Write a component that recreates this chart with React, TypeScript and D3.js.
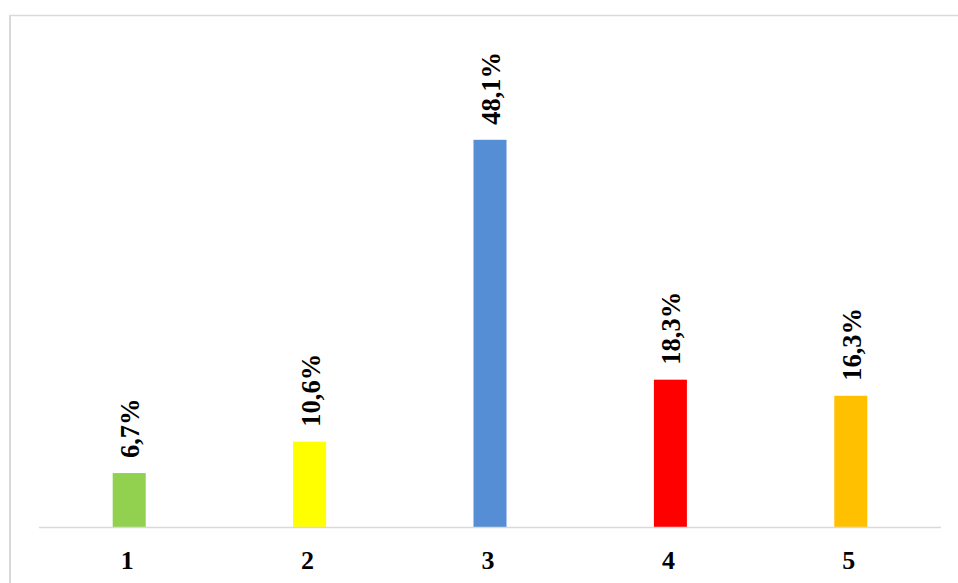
import React from "react";
import * as d3 from "d3";

const categories = ["1", "2", "3", "4", "5"];
const values = [6.7, 10.6, 48.1, 18.3, 16.3];
const labels = ["6,7%", "10,6%", "48,1%", "18,3%", "16,3%"];
const colors = ["#92d050", "#ffff00", "#558ed5", "#ff0000", "#ffc000"];

const W = 958;
const H = 583;
const FONT = "'Liberation Serif', 'Times New Roman', serif";

export default function App() {
  const x = d3
    .scaleBand<string>()
    .domain(categories)
    .range([39, 941])
    .paddingInner(0.817)
    .paddingOuter(0.4085);
  const y = d3.scaleLinear().domain([0, 60]).range([527, 44]);

  return (
    <svg
      width={W}
      height={H}
      style={{ position: "absolute", left: 0, top: 0, background: "#fff" }}
    >
      <rect x={0} y={0} width={W} height={H} fill="#fff" />
      <line x1={10} y1={15.5} x2={W} y2={15.5} stroke="#d9d9d9" strokeWidth={1.5} />
      <line x1={10} y1={15} x2={10} y2={H} stroke="#d9d9d9" strokeWidth={2} />
      {categories.map((c, i) => (
        <rect
          key={c}
          x={x(c)}
          y={y(values[i])}
          width={x.bandwidth()}
          height={y(0) - y(values[i])}
          fill={colors[i]}
        />
      ))}
      <line x1={39} y1={527.5} x2={941} y2={527.5} stroke="#d9d9d9" strokeWidth={1.5} />
      {categories.map((c, i) => {
        const cx = (x(c) as number) + x.bandwidth() / 2;
        const ty = y(values[i]) - 15;
        return (
          <text
            key={"l" + c}
            transform={`translate(${cx + 10},${ty}) rotate(-90)`}
            fontFamily={FONT}
            fontWeight="bold"
            fontSize={26.5}
            fill="#000"
          >
            {labels[i]}
          </text>
        );
      })}
      {categories.map((c) => (
        <text
          key={"t" + c}
          x={(x(c) as number) + x.bandwidth() / 2 - 2}
          y={569}
          textAnchor="middle"
          fontFamily={FONT}
          fontWeight="bold"
          fontSize={26}
          fill="#000"
        >
          {c}
        </text>
      ))}
    </svg>
  );
}
